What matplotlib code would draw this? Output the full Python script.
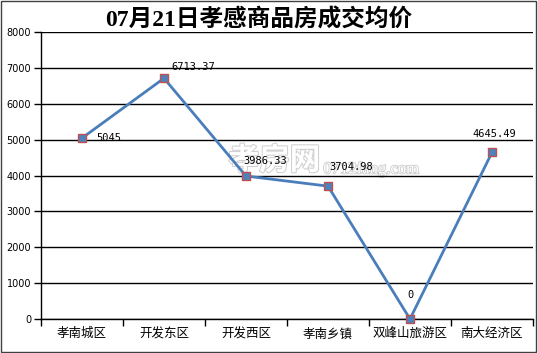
import matplotlib.pyplot as plt
import matplotlib.patheffects as pe
import numpy as np

# data
districts = ['孝南城区', '开发东区', '开发西区', '孝南乡镇', '双峰山旅游区', '南大经济区']
prices = [5045, 6713.37, 3986.33, 3704.98, 0, 4645.49]
price_labels = ['5045', '6713.37', '3986.33', '3704.98', '0', '4645.49']
title = '07月21日孝感商品房成交均价'

# label offsets in points (dx, dy), as excel placed them
label_offsets = [(10, 0), (5, 8), (-2, 11), (1, 14), (-2, 17), (-14, 13)]

cjk = ['Noto Sans CJK SC', 'DejaVu Sans']

fig = plt.figure(figsize=(5.38, 3.53), dpi=100)
ax = fig.add_axes([0.0762, 0.0963, 0.9145, 0.8127])

x = np.arange(len(districts))

# faint watermark behind the plot
fig.text(0.51, 0.545, '孝房网', family=cjk, fontsize=22, fontweight='bold', color='white',
         ha='center', va='center', zorder=-1,
         path_effects=[pe.withStroke(linewidth=1.5, foreground='#d0d0d0')])
fig.text(0.69, 0.52, '0712fang.com', family=['Liberation Serif'], fontsize=12, color='white',
         ha='center', va='center', zorder=-1,
         path_effects=[pe.withStroke(linewidth=1.2, foreground='#cccccc')])

ax.patch.set_alpha(0)
ax.plot(x, prices, color='#4a7ebb', linewidth=2.0, marker='s', markersize=5.5,
        markerfacecolor='#4f81bd', markeredgecolor='#c0504d', markeredgewidth=1.0,
        zorder=6, clip_on=False)

for xi, yi, lab, off in zip(x, prices, price_labels, label_offsets):
    ax.annotate(lab, (xi, yi), xytext=off, textcoords='offset points',
                family='DejaVu Sans Mono', fontsize=7.5, ha='left', va='center', zorder=7)

ax.set_xlim(-0.5, len(districts) - 0.5)
ax.set_ylim(0, 8000)
ax.set_yticks(range(0, 8001, 1000))
ax.set_yticklabels([str(v) for v in range(0, 8001, 1000)], family='DejaVu Sans', fontsize=7)
ax.yaxis.grid(True, color='black', linewidth=1.0)
ax.set_axisbelow(True)

ax.set_xticks(np.arange(-0.5, len(districts)), minor=False)
ax.set_xticklabels([])
ax.set_xticks(x, minor=True)
ax.set_xticklabels(districts, minor=True, family=cjk, fontsize=9)
ax.tick_params(axis='x', which='minor', length=0, pad=6)
ax.tick_params(axis='x', which='major', length=5, color='black', width=1)
ax.tick_params(axis='y', length=5, color='black', width=1, pad=2)

for s in ['top', 'right']:
    ax.spines[s].set_visible(False)
for s in ['left', 'bottom']:
    ax.spines[s].set_color('black')
    ax.spines[s].set_linewidth(1.0)

fig.text(0.48, 0.943, title, family=['Liberation Serif', 'Noto Sans CJK SC'],
         fontsize=17, fontweight='bold', ha='center', va='center')

# outer border
fig.patches.append(plt.Rectangle((0.001, 0.002), 0.996, 0.995, transform=fig.transFigure,
                                 fill=False, edgecolor='#404040', linewidth=1.0))

fig.savefig('out.png', dpi=100)
